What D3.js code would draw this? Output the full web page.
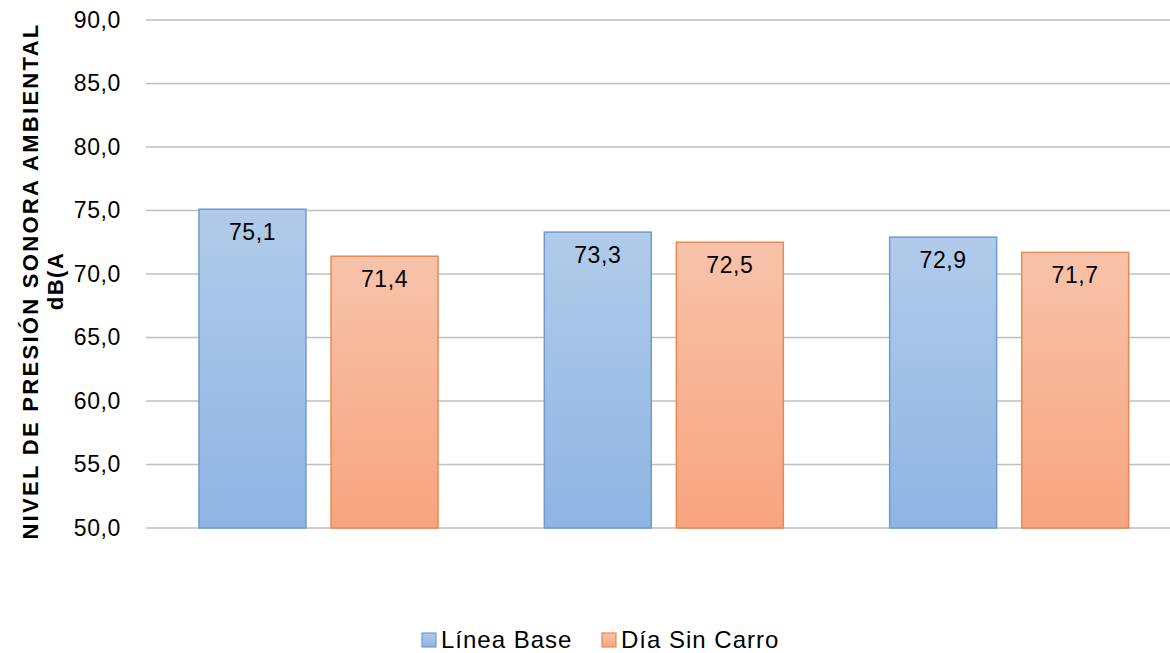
<!DOCTYPE html>
<html>
<head>
<meta charset="utf-8">
<script src="https://cdn.jsdelivr.net/npm/d3@7"></script>
<style>
  body { margin: 0; background: #fff; }
  svg { display: block; font-family: "Liberation Sans", Arial, sans-serif; }
</style>
</head>
<body>
<svg id="chart"></svg>
<script>
// chart data
const categories = ["1", "2", "3"];
const seriesNames = ["Línea Base", "Día Sin Carro"];
const lineaBase = [75.1, 73.3, 72.9];
const diaSinCarro = [71.4, 72.5, 71.7];
const yTicks = [50, 55, 60, 65, 70, 75, 80, 85, 90];

const width = 1170;
const height = 653;
const margin = { top: 20, right: -12, bottom: 125, left: 146 };

const svg = d3.select("#chart").attr("width", width).attr("height", height);

const defs = svg.append("defs");
const gradients = [
  { id: "gBlue", top: "#b1cbe9", bottom: "#8fb4e3", stroke: "#6f9bd1" },
  { id: "gOrange", top: "#f7c3aa", bottom: "#f7a47f", stroke: "#e8894f" }
];
gradients.forEach(g => {
  const lg = defs.append("linearGradient").attr("id", g.id)
    .attr("x1", 0).attr("y1", 0).attr("x2", 0).attr("y2", 1);
  lg.append("stop").attr("offset", "0%").attr("stop-color", g.top);
  lg.append("stop").attr("offset", "100%").attr("stop-color", g.bottom);
});

const x = d3.scaleBand()
  .domain(categories)
  .range([margin.left, width - margin.right])
  .padding(0);

// bars 107px wide, 25px apart, centred in each group
const x1 = d3.scaleBand()
  .domain(seriesNames)
  .range([53, 292])
  .paddingInner(0.19);

const y = d3.scaleLinear()
  .domain([50, 90])
  .range([height - margin.bottom, margin.top]);

const fmt = v => d3.format(".1f")(v).replace(".", ",");

// gridlines
svg.append("g")
  .selectAll("line")
  .data(yTicks)
  .join("line")
  .attr("x1", margin.left)
  .attr("x2", width)
  .attr("y1", d => y(d))
  .attr("y2", d => y(d))
  .attr("stroke", "#bfbfbf")
  .attr("stroke-width", 1.3);

// y axis labels
const yAxis = svg.append("g")
  .attr("transform", `translate(${margin.left},0)`)
  .call(d3.axisLeft(y).tickValues(yTicks).tickFormat(fmt).tickSize(0).tickPadding(25));
yAxis.select(".domain").remove();
yAxis.selectAll("text")
  .attr("font-family", "Liberation Sans, Arial, sans-serif")
  .attr("font-size", 23)
  .attr("letter-spacing", 0.6)
  .attr("fill", "#000");

// bars
const rows = categories.map((c, i) => ({ cat: c, values: [lineaBase[i], diaSinCarro[i]] }));
const group = svg.append("g").selectAll("g")
  .data(rows)
  .join("g")
  .attr("transform", d => `translate(${x(d.cat)},0)`);

group.selectAll("rect")
  .data(d => d.values.map((v, j) => ({ key: seriesNames[j], v, j })))
  .join("rect")
  .attr("x", d => x1(d.key))
  .attr("y", d => y(d.v))
  .attr("width", x1.bandwidth())
  .attr("height", d => y(50) - y(d.v))
  .attr("fill", d => `url(#${gradients[d.j].id})`)
  .attr("stroke", d => gradients[d.j].stroke)
  .attr("stroke-width", 1.5);

group.selectAll("text.value")
  .data(d => d.values.map((v, j) => ({ key: seriesNames[j], v, j })))
  .join("text")
  .attr("class", "value")
  .attr("x", d => x1(d.key) + x1.bandwidth() / 2)
  .attr("y", d => y(d.v) + 31)
  .attr("text-anchor", "middle")
  .attr("font-size", 23)
  .attr("letter-spacing", 0.6)
  .attr("fill", "#000")
  .text(d => fmt(d.v));

// y axis title
const title = svg.append("text")
  .attr("transform", `translate(0,${281}) rotate(-90)`)
  .attr("text-anchor", "middle")
  .attr("font-size", 22)
  .attr("font-weight", "bold")
  .attr("fill", "#000");
title.append("tspan").attr("x", 0).attr("y", 38)
  .attr("letter-spacing", 2.3)
  .text("NIVEL DE PRESIÓN SONORA AMBIENTAL");
title.append("tspan").attr("x", 0).attr("y", 63)
  .attr("letter-spacing", 1.5)
  .text("dB(A");

// legend
const legendItems = [
  { name: seriesNames[0], x: 422, g: gradients[0] },
  { name: seriesNames[1], x: 602, g: gradients[1] }
];
const legend = svg.append("g").attr("transform", "translate(0,640)");
legendItems.forEach(item => {
  legend.append("rect")
    .attr("x", item.x)
    .attr("y", -7)
    .attr("width", 14)
    .attr("height", 14)
    .attr("fill", `url(#${item.g.id})`)
    .attr("stroke", item.g.stroke)
    .attr("stroke-width", 1.2);
  legend.append("text")
    .attr("x", item.x + 19)
    .attr("y", 8)
    .attr("font-size", 24)
    .attr("letter-spacing", 1)
    .attr("fill", "#000")
    .text(item.name);
});
</script>
</body>
</html>
